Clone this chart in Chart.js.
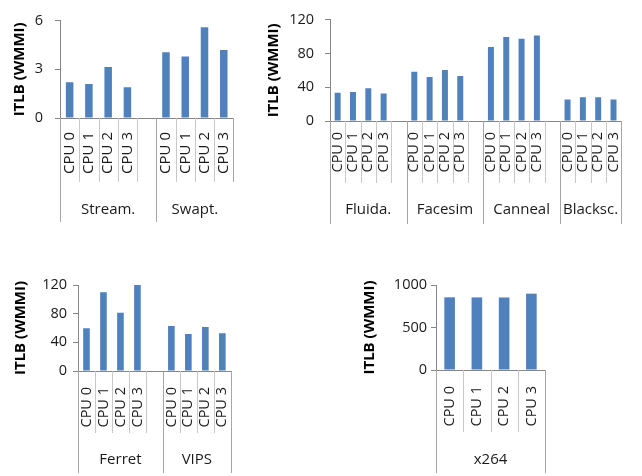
<!DOCTYPE html>
<html>
<head>
<meta charset="utf-8">
<script src="https://cdn.jsdelivr.net/npm/chart.js@4.4.1/dist/chart.umd.min.js"></script>
<style>
  html, body { margin: 0; padding: 0; background: #fff; }
  #wrap { position: relative; width: 642px; height: 476px; overflow: hidden; background: #fff; }
  #wrap canvas { position: absolute; }
</style>
</head>
<body>
<div id="wrap">
  <canvas id="c1" width="256" height="230" style="left:0px;top:0px;width:256px;height:230px"></canvas>
  <canvas id="c2" width="387" height="230" style="left:255px;top:0px;width:387px;height:230px"></canvas>
  <canvas id="c3" width="256" height="214" style="left:0px;top:262px;width:256px;height:214px"></canvas>
  <canvas id="c4" width="300" height="214" style="left:342px;top:262px;width:300px;height:214px"></canvas>
</div>
<script>
// ---- data ----
const CPU_LABELS = ['CPU 0', 'CPU 1', 'CPU 2', 'CPU 3'];
const Y_TITLE = 'ITLB (WMMI)';

const P1_GROUPS = ['Stream.', 'Swapt.'];
const P1_VALUES = [[2.2, 2.1, 3.15, 1.9], [4.05, 3.8, 5.6, 4.2]];
const P1_TICKS = [0, 3, 6];

const P2_GROUPS = ['Fluida.', 'Facesim', 'Canneal', 'Blacksc.'];
const P2_VALUES = [[33.5, 34.5, 38.8, 32.7], [58.2, 52.2, 60.4, 53.3], [87.7, 99.5, 97.3, 101.2], [25.6, 28.1, 28.1, 25.6]];
const P2_TICKS = [0, 40, 80, 120];

const P3_GROUPS = ['Ferret', 'VIPS'];
const P3_VALUES = [[59.5, 109.8, 81.4, 120], [62.8, 51.6, 61.4, 52.6]];
const P3_TICKS = [0, 40, 80, 120];

const P4_GROUPS = ['x264'];
const P4_VALUES = [[855, 854, 853, 898]];
const P4_TICKS = [0, 500, 1000];

// ---- style ----
const BAR_COLOR = '#4F81BD';
const AXIS_COLOR = '#868686';
const INNER_SEP = '#c8c8c8';
const GROUP_SEP = '#a6a6a6';
const TEXT_COLOR = '#1a1a1a';
const FONT = '"Open Sans", "Liberation Sans", sans-serif';

function buildLabels(groups) {
  const labels = [];
  groups.forEach((g, gi) => {
    CPU_LABELS.forEach(l => labels.push(l));
    if (gi < groups.length - 1) labels.push('');
  });
  return labels;
}
function buildData(values) {
  const out = [];
  values.forEach((arr, gi) => {
    arr.forEach(v => out.push(v));
    if (gi < values.length - 1) out.push(null);
  });
  return out;
}
function groupSizes(groups) {
  return groups.map((g, gi) => CPU_LABELS.length + (gi < groups.length - 1 ? 1 : 0));
}

const groupAxis = {
  id: 'groupAxis',
  afterDraw(chart, args, opts) {
    const { ctx, chartArea } = chart;
    const x = chart.scales.x;
    const n = chart.data.labels.length;
    const cw = n > 1 ? x.getPixelForValue(1) - x.getPixelForValue(0) : (chartArea.right - chartArea.left);
    const b = chartArea.bottom;
    let idx = 0;
    const groupStarts = new Set([0]);
    opts.sizes.forEach(s => { idx += s; groupStarts.add(idx); });
    ctx.save();
    ctx.lineWidth = 1;
    for (let i = 0; i <= n; i++) {
      const px = Math.round(x.getPixelForValue(i) - cw / 2) + 0.5;
      const isGroup = groupStarts.has(i);
      let len = isGroup ? opts.groupLen : opts.innerLen;
      if (i === n && opts.shortEnd) len = opts.innerLen;
      ctx.strokeStyle = isGroup ? GROUP_SEP : INNER_SEP;
      ctx.beginPath();
      ctx.moveTo(px, b);
      ctx.lineTo(px, b + len);
      ctx.stroke();
    }
    ctx.fillStyle = TEXT_COLOR;
    ctx.font = opts.fontSize + 'px ' + FONT;
    ctx.textAlign = 'center';
    ctx.textBaseline = 'middle';
    let start = 0;
    opts.groups.forEach((g, gi) => {
      const s = opts.sizes[gi];
      const l = x.getPixelForValue(start) - cw / 2;
      const r = x.getPixelForValue(start + s - 1) + cw / 2;
      ctx.fillText(g, (l + r) / 2, b + opts.labelOffset);
      start += s;
    });
    ctx.restore();
  }
};

function makeChart(id, groups, values, ticks, cfg) {
  const labels = buildLabels(groups);
  const data = buildData(values);
  return new Chart(document.getElementById(id), {
    type: 'bar',
    data: {
      labels: labels,
      datasets: [{
        data: data,
        backgroundColor: BAR_COLOR,
        borderWidth: 0,
        barPercentage: 0.39,
        categoryPercentage: 1.0
      }]
    },
    plugins: [groupAxis],
    options: {
      responsive: false,
      animation: false,
      devicePixelRatio: 1,
      layout: { padding: { top: cfg.padTop, right: cfg.padRight, left: 0, bottom: 0 } },
      plugins: {
        legend: { display: false },
        tooltip: { enabled: false },
        groupAxis: {
          groups: groups,
          sizes: groupSizes(groups),
          innerLen: cfg.innerLen,
          groupLen: cfg.groupLen,
          labelOffset: cfg.labelOffset,
          fontSize: cfg.groupFont,
          shortEnd: !!cfg.shortEnd
        }
      },
      scales: {
        x: {
          type: 'category',
          offset: true,
          grid: { display: false, drawTicks: false },
          border: { display: true, color: AXIS_COLOR, width: 1 },
          ticks: {
            autoSkip: false,
            minRotation: 90,
            maxRotation: 90,
            padding: cfg.xPad,
            color: TEXT_COLOR,
            font: { family: FONT, size: cfg.cpuFont }
          },
          afterFit: s => { s.height = cfg.xHeight; }
        },
        y: {
          min: ticks[0],
          max: ticks[ticks.length - 1],
          afterBuildTicks: s => { s.ticks = ticks.map(v => ({ value: v })); },
          grid: { display: true, drawOnChartArea: false, drawTicks: true, tickLength: 5, color: AXIS_COLOR },
          border: { display: true, color: AXIS_COLOR, width: 1 },
          ticks: {
            padding: cfg.yPad,
            color: TEXT_COLOR,
            font: { family: FONT, size: cfg.tickFont },
            callback: v => String(v)
          },
          title: {
            display: true,
            text: Y_TITLE,
            color: '#000',
            font: { family: FONT, size: 15, weight: 'bold' },
            padding: { top: cfg.titlePad, bottom: 0 }
          },
          afterFit: s => { s.width = cfg.yWidth; }
        }
      }
    }
  });
}

makeChart('c1', P1_GROUPS, P1_VALUES, P1_TICKS, {
  padTop: 8, padRight: 4, yWidth: 60, xHeight: 112, yPad: 12, titlePad: 11,
  xPad: 14, innerLen: 64, groupLen: 104, labelOffset: 92, groupFont: 15, cpuFont: 15, tickFont: 14.5, shortEnd: true
});
makeChart('c2', P2_GROUPS, P2_VALUES, P2_TICKS, {
  padTop: 8, padRight: 3, yWidth: 75, xHeight: 109, yPad: 11, titlePad: 9.5,
  xPad: 11, innerLen: 62, groupLen: 103, labelOffset: 89, groupFont: 15, cpuFont: 14.5, tickFont: 14.5
});
makeChart('c3', P3_GROUPS, P3_VALUES, P3_TICKS, {
  padTop: 23, padRight: 5, yWidth: 78, xHeight: 105, yPad: 6, titlePad: 12,
  xPad: 16, innerLen: 62, groupLen: 102, labelOffset: 89, groupFont: 15, cpuFont: 14.5, tickFont: 14.5
});
makeChart('c4', P4_GROUPS, P4_VALUES, P4_TICKS, {
  padTop: 23, padRight: 97, yWidth: 94, xHeight: 106, yPad: 4, titlePad: 19,
  xPad: 16, innerLen: 62, groupLen: 103, labelOffset: 90, groupFont: 15, cpuFont: 14.5, tickFont: 14.5
});
</script>
</body>
</html>
